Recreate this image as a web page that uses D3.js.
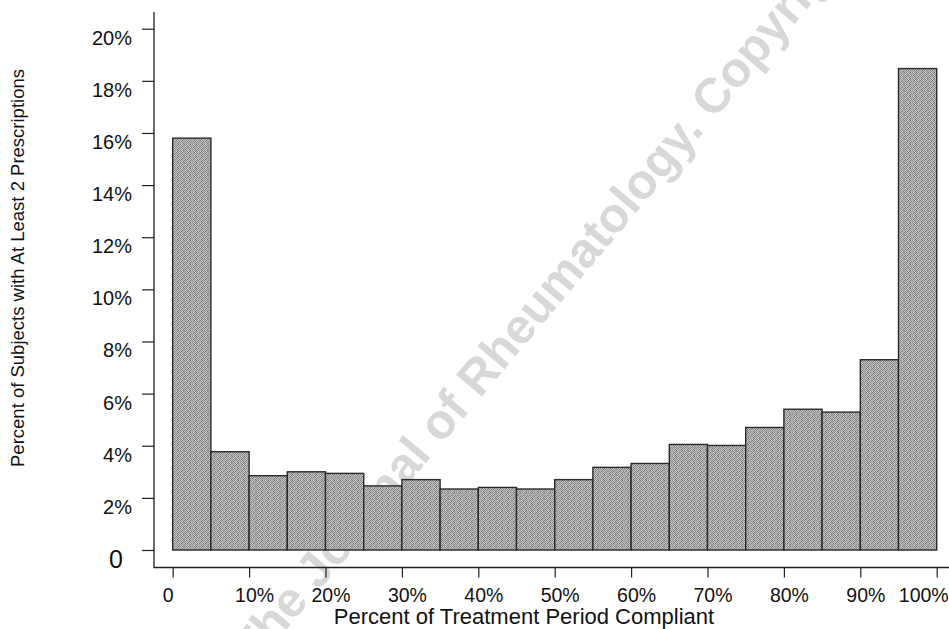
<!DOCTYPE html>
<html>
<head>
<meta charset="utf-8">
<script src="https://cdn.jsdelivr.net/npm/d3@7"></script>
<style>
  html, body { margin: 0; padding: 0; background: #fff; }
  svg { display: block; }
  .axis text { font-family: "Liberation Sans", Arial, sans-serif; fill: #111; }
</style>
</head>
<body>
<div id="chart"></div>
<script>
// Histogram bins: lower edge of each 5% bin (percent of treatment period compliant)
const binStarts = [0, 5, 10, 15, 20, 25, 30, 35, 40, 45, 50, 55, 60, 65, 70, 75, 80, 85, 90, 95];
const binWidth = 5;
// percent of subjects per bin
const binValues = [15.8, 3.77, 2.85, 3.0, 2.94, 2.46, 2.7, 2.34, 2.4, 2.34, 2.7, 3.17, 3.32, 4.05, 4.01, 4.7, 5.4, 5.29, 7.3, 18.47];

const yTicks = [0, 2, 4, 6, 8, 10, 12, 14, 16, 18, 20];
const xTicks = [0, 10, 20, 30, 40, 50, 60, 70, 80, 90, 100];

const xTitle = "Percent of Treatment Period Compliant";
const yTitle = "Percent of Subjects with At Least 2 Prescriptions";
const watermark = "The Journal of Rheumatology. Copyright";

const width = 949,
      height = 629;

const svg = d3.select("#chart")
              .append("svg")
              .attr("width", width)
              .attr("height", height);

// halftone-ish fill, a small fixed pixel pattern (irregular so it reads as speckle)
const defs = svg.append("defs");
const dots = [
    ["#808080", "#c8c8c8", "#969696", "#b8b8b8", "#727272", "#c4c4c4"],
    ["#bcbcbc", "#8c8c8c", "#cecece", "#7e7e7e", "#b2b2b2", "#989898"],
    ["#a6a6a6", "#bababa", "#767676", "#c6c6c6", "#909090", "#c0c0c0"],
    ["#cacaca", "#787878", "#b4b4b4", "#9c9c9c", "#c8c8c8", "#7c7c7c"],
    ["#888888", "#c2c2c2", "#a0a0a0", "#bebebe", "#808080", "#b6b6b6"],
    ["#b8b8b8", "#9a9a9a", "#c6c6c6", "#707070", "#bcbcbc", "#a2a2a2"]
];
const pat = defs.append("pattern")
    .attr("id", "halftone")
    .attr("patternUnits", "userSpaceOnUse")
    .attr("width", 6)
    .attr("height", 6);
dots.forEach((row, j) => row.forEach((c, i) => {
    pat.append("rect")
       .attr("x", i).attr("y", j)
       .attr("width", 1).attr("height", 1)
       .attr("fill", c);
}));

const x = d3.scaleLinear().domain([0, 100]).range([172.7, 936.7]);
const y = d3.scaleLinear().domain([0, 20]).range([550, 28.7]);

// watermark sits behind everything
svg.append("text")
   .attr("transform", "translate(254,668) rotate(-50)")
   .style("font", "bold 49px 'Liberation Sans', Arial, sans-serif")
   .attr("fill", "#d8d8d8")
   .text(watermark);

// bars
svg.append("g")
   .selectAll("rect")
   .data(binStarts)
   .join("rect")
   .attr("x", d => x(d))
   .attr("y", (d, i) => y(binValues[i]))
   .attr("width", d => x(d + binWidth) - x(d))
   .attr("height", (d, i) => y(0) - y(binValues[i]))
   .attr("fill", "url(#halftone)")
   .attr("stroke", "#2a2a2a")
   .attr("stroke-width", 1.4);

// axis lines (L shape)
const axisX = 154, axisY = 567.5;
svg.append("path")
   .attr("d", `M${axisX},12V${axisY}H${width}`)
   .attr("fill", "none")
   .attr("stroke", "#222")
   .attr("stroke-width", 1.3);

// y axis
const yAxis = svg.append("g")
   .attr("class", "axis")
   .attr("transform", `translate(${axisX},0)`)
   .call(d3.axisLeft(y)
           .tickValues(yTicks)
           .tickSize(12)
           .tickPadding(10)
           .tickFormat(d => d === 0 ? "0" : d + "%"));
yAxis.select(".domain").remove();
yAxis.selectAll(".tick line").attr("stroke", "#222").attr("stroke-width", 1.2);
yAxis.selectAll(".tick text")
     .attr("y", 9)
     .style("font-size", d => d === 0 ? "25px" : "20px")
     .attr("x", d => d === 0 ? -31 : -22);

// x axis
const xAxis = svg.append("g")
   .attr("class", "axis")
   .attr("transform", `translate(0,${axisY})`)
   .call(d3.axisBottom(x)
           .tickValues(xTicks)
           .tickSize(10)
           .tickFormat(d => d === 0 ? "0" : d + "%"));
xAxis.select(".domain").remove();
xAxis.selectAll(".tick line").attr("stroke", "#222").attr("stroke-width", 1.2);
xAxis.selectAll(".tick text")
     .attr("dy", 0)
     .attr("y", 34.5)
     .style("font-size", "19.5px")
     .attr("text-anchor", d => d === 100 ? "end" : "middle")
     .attr("x", d => d === 0 ? -5 : (d === 100 ? 11.5 : 5));

// axis titles
svg.append("text")
   .attr("x", 524)
   .attr("y", 624)
   .attr("text-anchor", "middle")
   .style("font", "22px 'Liberation Sans', Arial, sans-serif")
   .attr("fill", "#111")
   .text(xTitle);

svg.append("text")
   .attr("transform", "translate(24,268) rotate(-90)")
   .attr("text-anchor", "middle")
   .style("font", "18.5px 'Liberation Sans', Arial, sans-serif")
   .attr("fill", "#111")
   .text(yTitle);
</script>
</body>
</html>
